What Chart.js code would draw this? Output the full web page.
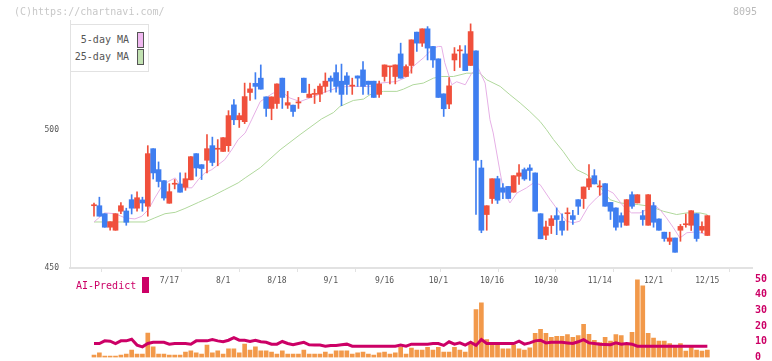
<!DOCTYPE html>
<html><head><meta charset="utf-8">
<script src="https://cdn.jsdelivr.net/npm/chart.js@4/dist/chart.umd.min.js"></script>
<style>
html,body{margin:0;padding:0;background:#fff;}
#wrap{position:relative;width:772px;height:361px;overflow:hidden;font-family:"DejaVu Sans Mono",monospace;}
canvas{position:absolute;left:0;}
#c1{top:0;}
#c2{top:270px;}
.t{position:absolute;white-space:nowrap;font-size:10px;line-height:12px;font-family:"DejaVu Sans Mono",monospace;}
.sw{position:absolute;box-sizing:border-box;}
</style></head><body>
<div id="wrap">
<canvas id="c1" width="772" height="300"></canvas>
<canvas id="c2" width="772" height="100"></canvas>
<div class="t" style="left:14px;top:6px;color:#c8c8c8">(C)https://chartnavi.com/</div>
<div class="t" style="left:733px;top:6px;color:#bbbbbb">8095</div>
<div style="position:absolute;left:70px;top:24px;width:79px;height:48px;box-sizing:border-box;border:1px solid #e2e2e2;background:#fff;">
  <div class="t" style="right:19px;top:9px;color:#555">5-day MA</div>
  <div class="sw" style="left:66px;top:7px;width:7px;height:16px;border:1px solid #555;background:#f0b8f0"></div>
  <div class="t" style="right:19px;top:26px;color:#555">25-day MA</div>
  <div class="sw" style="left:66px;top:24px;width:7px;height:16px;border:1px solid #555;background:#c2e2b2"></div>
</div>
<div class="t" style="left:76px;top:280px;color:#cc0066">AI-Predict</div>
<div class="sw" style="left:142px;top:277px;width:7px;height:16px;background:#cc0066"></div>
</div>
<script>
const xLabels = ['7/17','8/1','8/18','9/1','9/16','10/1','10/16','10/30','11/14','12/1','12/15'];
const xLabelIdx = [14,24,34,44,54,64,74,84,94,104,114];
const yTicks = [450,500];
const vTicks = [0,10,20,30,40,50];

const open = [472.6,472.6,469.7,464.8,463.7,470.6,470.7,474.8,471.7,474.7,
472.4,493.3,485.7,481.7,473.5,480.4,480.5,479.3,482.0,491.5,
487.5,489.1,494.4,493.1,492.3,494.4,509.2,503.8,503.1,513.7,
517.0,518.9,512.1,507.9,509.7,518.9,509.1,509.1,509.9,518.9,
511.9,513.0,513.1,515.9,518.9,520.9,517.8,519.7,516.0,519.7,
521.9,517.8,517.8,513.0,519.5,523.0,519.5,527.7,519.5,523.5,
535.6,531.6,536.8,530.4,525.9,513.2,509.5,525.5,528.8,527.7,
523.5,528.8,486.3,469.4,475.2,482.4,479.1,479.6,477.5,483.3,
485.7,486.3,484.5,469.7,461.9,465.4,469.0,467.0,469.7,469.0,
474.8,475.2,479.4,483.5,479.4,480.6,473.8,471.8,469.0,465.5,
476.6,473.6,469.0,465.5,472.6,467.8,463.0,459.7,460.9,463.7,
465.7,465.5,469.7,463.7,461.8];
const close = [472.7,468.8,464.8,466.8,469.7,472.6,466.6,471.7,475.5,473.6,
491.5,484.5,481.4,475.4,477.7,480.6,477.5,482.4,490.4,486.3,
486.1,493.3,488.3,493.2,497.3,505.3,503.8,505.3,512.2,515.0,
515.9,514.9,507.9,512.1,516.8,511.9,510.0,506.8,510.0,513.7,
513.1,513.1,516.0,517.8,517.8,515.9,513.0,516.6,516.1,518.9,
515.9,516.6,511.9,516.8,523.7,523.1,523.7,518.9,523.1,532.8,
531.6,536.8,529.8,525.5,511.9,507.8,516.1,527.7,528.9,521.6,
535.8,489.1,463.7,472.6,482.4,474.6,477.5,475.2,483.5,484.5,
482.3,485.4,470.6,460.6,464.9,467.9,467.6,463.7,469.8,467.6,
472.4,479.4,482.4,480.5,479.5,472.4,470.6,464.8,466.6,474.8,
472.4,476.6,467.6,476.6,466.6,463.7,460.7,460.9,455.7,465.1,
465.8,470.8,460.7,465.1,469.0];
const high = [473.6,475.7,469.7,466.8,469.7,473.7,471.7,476.6,477.6,475.7,
494.4,493.3,488.5,481.7,480.6,482.1,484.5,484.5,490.4,491.5,
487.5,498.4,497.5,496.6,497.3,507.1,511.1,506.2,517.1,517.1,
520.9,523.7,512.1,512.1,516.8,518.9,514.1,509.1,511.9,518.9,
516.7,514.9,516.8,520.8,519.7,523.7,524.0,520.9,518.9,519.7,
524.9,517.8,517.8,517.8,523.7,523.1,523.7,531.6,523.7,532.8,
535.6,536.8,537.6,530.4,525.9,513.2,519.1,530.0,530.7,530.7,
538.6,528.8,489.1,472.6,482.4,483.3,480.6,479.6,483.5,487.5,
486.3,487.5,484.5,469.7,467.0,469.0,471.8,469.7,471.8,470.9,
474.8,479.4,487.5,485.7,481.7,480.6,473.8,471.8,470.0,474.8,
477.6,476.6,470.9,476.6,473.8,467.8,463.0,463.0,460.9,465.8,
469.6,470.8,469.7,466.8,469.0];
const low = [468.8,468.8,464.8,463.7,463.7,469.7,465.5,469.6,470.6,470.6,
468.8,482.3,479.4,474.6,473.5,478.7,477.5,478.2,482.0,483.3,
482.1,484.5,487.1,487.1,492.3,492.3,502.0,501.0,502.4,510.8,
511.3,514.9,505.0,503.8,507.9,507.9,507.9,505.0,507.9,513.7,
511.9,509.7,510.4,513.8,513.8,513.8,508.9,513.0,513.0,515.9,
513.0,513.0,511.9,511.9,517.8,516.8,516.8,518.9,519.5,520.7,
528.6,530.4,525.5,522.8,511.9,505.0,507.8,521.6,522.8,521.6,
523.5,469.4,462.8,463.7,473.4,473.4,475.2,475.2,477.5,480.3,
481.8,481.8,470.6,460.6,460.3,462.5,462.1,461.9,463.7,465.8,
469.4,471.6,478.4,480.5,476.4,472.4,467.6,463.7,464.8,465.5,
471.6,473.6,465.5,465.5,464.8,463.7,459.7,458.5,455.7,459.7,
464.8,463.6,459.7,462.8,461.8];

const ma5 = [[0,466.7],[2.0,470.0],[3.9,469.7],[5.8,468.2],[7.6,467.8],[8.9,468.8],[10.1,471.2],[11.3,475.4],[12.6,479.6],[13.8,481.4],[15.1,482.7],[16.3,479.1],[18.2,479.1],[19.4,482.1],[20.6,484.5],[21.9,485.7],[23.1,487.5],[24.3,489.3],[25.6,492.9],[26.8,496.6],[28.1,499.0],[29.3,503.8],[30.9,510.4],[33.3,513.5],[35.2,513.5],[36.4,511.7],[38.3,510.4],[40.8,512.2],[43.3,514.1],[45.1,515.3],[47.0,515.9],[49.4,515.9],[51.3,515.9],[53.2,517.1],[56.3,517.7],[58.1,519.3],[59.3,523.1],[61.2,526.2],[63.1,529.8],[64.0,530.4],[64.6,530.4],[65.2,524.5],[66.5,516.5],[67.4,517.6],[69.0,516.5],[70.2,520.7],[71.4,522.6],[72.7,517.1],[73.6,503.8],[74.2,499.0],[75.5,484.5],[76.1,478.4],[77.3,473.6],[78.6,477.2],[80.4,479.1],[81.7,480.9],[82.9,480.3],[84.8,474.8],[86.6,470.0],[87.8,467.0],[89.1,466.4],[90.3,467.0],[91.9,472.4],[93.4,475.4],[95.3,478.4],[96.5,477.2],[98.4,472.4],[99.9,470.0],[101.5,470.0],[102.7,471.2],[104.0,473.0],[105.2,471.2],[106.4,468.2],[107.7,464.6],[108.9,460.9],[110.2,462.8],[111.4,463.0],[112.6,462.8],[114,462.1]];
const ma25 = [[0,466.7],[9.5,466.7],[11.3,468.2],[13.2,469.7],[15.1,470.2],[16.9,471.6],[19.4,473.8],[21.9,476.0],[24.3,478.4],[26.8,480.9],[28.1,482.7],[30.9,486.4],[34.6,492.9],[38.3,498.4],[42.3,504.1],[44.5,506.4],[45.7,508.6],[48.2,510.8],[50.1,511.3],[51.3,512.9],[53.8,514.1],[56.3,514.1],[57.5,514.9],[59.3,516.5],[61.2,517.1],[63.1,518.9],[64.6,519.5],[66.8,519.5],[69.3,520.7],[71.7,520.7],[73.0,518.3],[75.5,515.9],[77.3,512.9],[79.2,509.9],[81.0,506.8],[82.9,503.2],[84.1,500.2],[85.4,496.6],[87.2,492.3],[88.5,488.7],[89.7,485.7],[91.6,483.9],[93.4,480.9],[95.9,474.8],[97.8,473.6],[101.2,473.0],[103.3,472.4],[105.8,470.6],[108.3,469.4],[110.2,470.0],[112.6,470.0],[114,469.4]];

const volume = [1.6,3.0,0.9,0.9,0.9,1.6,2.2,4.7,2.2,2.2,
15.6,6.8,2.2,2.2,1.6,1.6,1.6,3.5,4.3,3.0,
2.2,7.9,3.0,4.3,2.2,5.6,5.6,3.0,8.5,4.7,
6.8,4.3,4.3,3.5,2.2,4.3,2.2,2.2,2.2,4.7,
2.2,2.2,2.2,3.5,2.2,4.3,4.3,4.3,2.2,3.0,
3.5,2.2,1.6,3.0,3.5,2.2,3.0,6.4,2.2,6.0,
4.7,4.7,6.4,4.7,6.4,3.5,3.5,6.4,4.7,3.5,
8.5,30.5,34.9,11.4,8.5,7.9,5.6,5.6,8.1,5.6,
4.7,6.2,15.4,17.9,15.4,12.9,13.5,13.5,14.6,12.9,
13.9,21.1,14.8,11.0,9.5,12.9,10.4,14.6,13.9,8.3,
16.0,49.4,45.6,15.4,12.3,10.4,10.4,8.9,6.8,8.9,
4.1,6.8,4.7,4.1,4.7];
const predict = [8.9,8.9,10.6,10.4,8.9,10.6,10.6,11.6,7.9,6.8,
8.9,9.7,9.7,9.7,8.5,8.9,8.9,8.9,8.5,10.6,
10.6,10.6,11.4,10.6,10.0,11.0,12.6,11.0,11.0,10.2,
11.0,10.0,9.7,8.5,8.5,10.2,8.9,8.1,8.9,9.7,
8.1,7.9,7.9,7.2,7.7,7.7,8.1,8.5,7.2,7.2,
7.2,7.2,7.2,7.2,7.2,7.2,7.2,7.9,7.2,8.5,
8.5,8.5,8.5,8.9,8.9,7.7,10.0,8.5,9.3,7.9,
9.7,7.7,11.4,8.9,8.9,8.9,8.9,8.9,8.9,10.4,
8.5,9.3,10.6,11.0,9.3,9.7,9.7,9.7,9.3,8.9,
10.0,11.4,9.3,8.9,8.5,8.3,8.1,9.3,8.5,8.9,
8.5,7.2,7.2,7.2,7.2,7.2,7.2,7.2,7.2,7.2,
7.2,7.2,7.2,7.2,7.2];

const UP = '#f0503c', DOWN = '#3f7ef0';
const candleColors = open.map((o,i) => close[i] >= o ? UP : DOWN);
const bodies = open.map((o,i) => ({x:i, y:[o, close[i]]}));
const wicks = low.map((l,i) => ({x:i, y:[l, high[i]]}));
const XMIN = -4.46, XMAX = 122.3;
const mono = 'DejaVu Sans Mono';
const gridSet = new Set();

new Chart(document.getElementById('c1'), {
  type: 'bar',
  data: { datasets: [
    {type:'bar', data: bodies, backgroundColor: candleColors, borderWidth:0, barThickness:5, minBarLength:1, grouped:false, order:0},
    {type:'bar', data: wicks, backgroundColor: candleColors, borderWidth:0, barThickness:1, grouped:false, order:1},
    {type:'line', data: ma5.map(p=>({x:p[0],y:p[1]})), borderColor:'#e6b0e6', borderWidth:1, pointRadius:0, tension:0, order:2},
    {type:'line', data: ma25.map(p=>({x:p[0],y:p[1]})), borderColor:'#b0d89c', borderWidth:1, pointRadius:0, tension:0, order:3}
  ]},
  options: {
    responsive:false, animation:false, devicePixelRatio:1,
    layout:{padding:{left:0,right:20,top:20,bottom:0}},
    plugins:{legend:{display:false}, tooltip:{enabled:false}},
    scales:{
      x:{type:'linear', min:XMIN, max:XMAX, offset:false,
        afterBuildTicks: s => {
          const step = (s.max - s.min)/11;
          const t = [];
          gridSet.clear();
          for (let k=0;k<=11;k++){ const v = s.min + k*step; gridSet.add(v); t.push({value:v}); }
          xLabelIdx.forEach(v => t.push({value:v}));
          t.sort((a,b)=>a.value-b.value);
          s.ticks = t;
        },
        afterFit: s => { s.height = 32; },
        grid:{drawOnChartArea:false, tickLength:4, lineWidth:1,
          color: ctx => (ctx.tick && gridSet.has(ctx.tick.value)) ? '#e2e2e2' : 'rgba(0,0,0,0)'},
        border:{color:'#e2e2e2', width:2},
        ticks:{autoSkip:false, maxRotation:0, minRotation:0, padding:4, color:'#555',
          font:{family:mono, size:8},
          callback: v => { const k = xLabelIdx.indexOf(v); return k>=0 ? xLabels[k] : ''; }}
      },
      y:{min:450, max:540,
        afterBuildTicks: s => { s.ticks = yTicks.map(v=>({value:v})); },
        afterFit: s => { s.width = 70; },
        grid:{drawOnChartArea:false, drawTicks:false},
        border:{color:'#e2e2e2', width:1},
        ticks:{padding:11, color:'#555', font:{family:mono, size:8}}
      }
    }
  }
});

new Chart(document.getElementById('c2'), {
  type: 'bar',
  data: { datasets: [
    {type:'line', data: predict.map((v,i)=>({x:i,y:v})), borderColor:'#cc0066', borderWidth:3, pointRadius:0, tension:0, order:0},
    {type:'bar', data: volume.map((v,i)=>({x:i,y:v})), backgroundColor:'#f2994a', borderWidth:0, barThickness:4, order:1}
  ]},
  options: {
    responsive:false, animation:false, devicePixelRatio:1,
    layout:{padding:{left:70,right:0,top:8,bottom:12.5}},
    plugins:{legend:{display:false}, tooltip:{enabled:false}},
    scales:{
      x:{type:'linear', min:XMIN, max:XMAX, offset:false, display:false},
      y:{position:'right', min:0, max:50,
        afterBuildTicks: s => { s.ticks = vTicks.map(v=>({value:v})); },
        afterFit: s => { s.width = 20; },
        grid:{display:false, drawTicks:false}, border:{display:false},
        ticks:{padding:3, color:'#cc0066', font:{family:mono, size:10, weight:'bold'}}
      }
    }
  }
});
</script>
</body></html>
